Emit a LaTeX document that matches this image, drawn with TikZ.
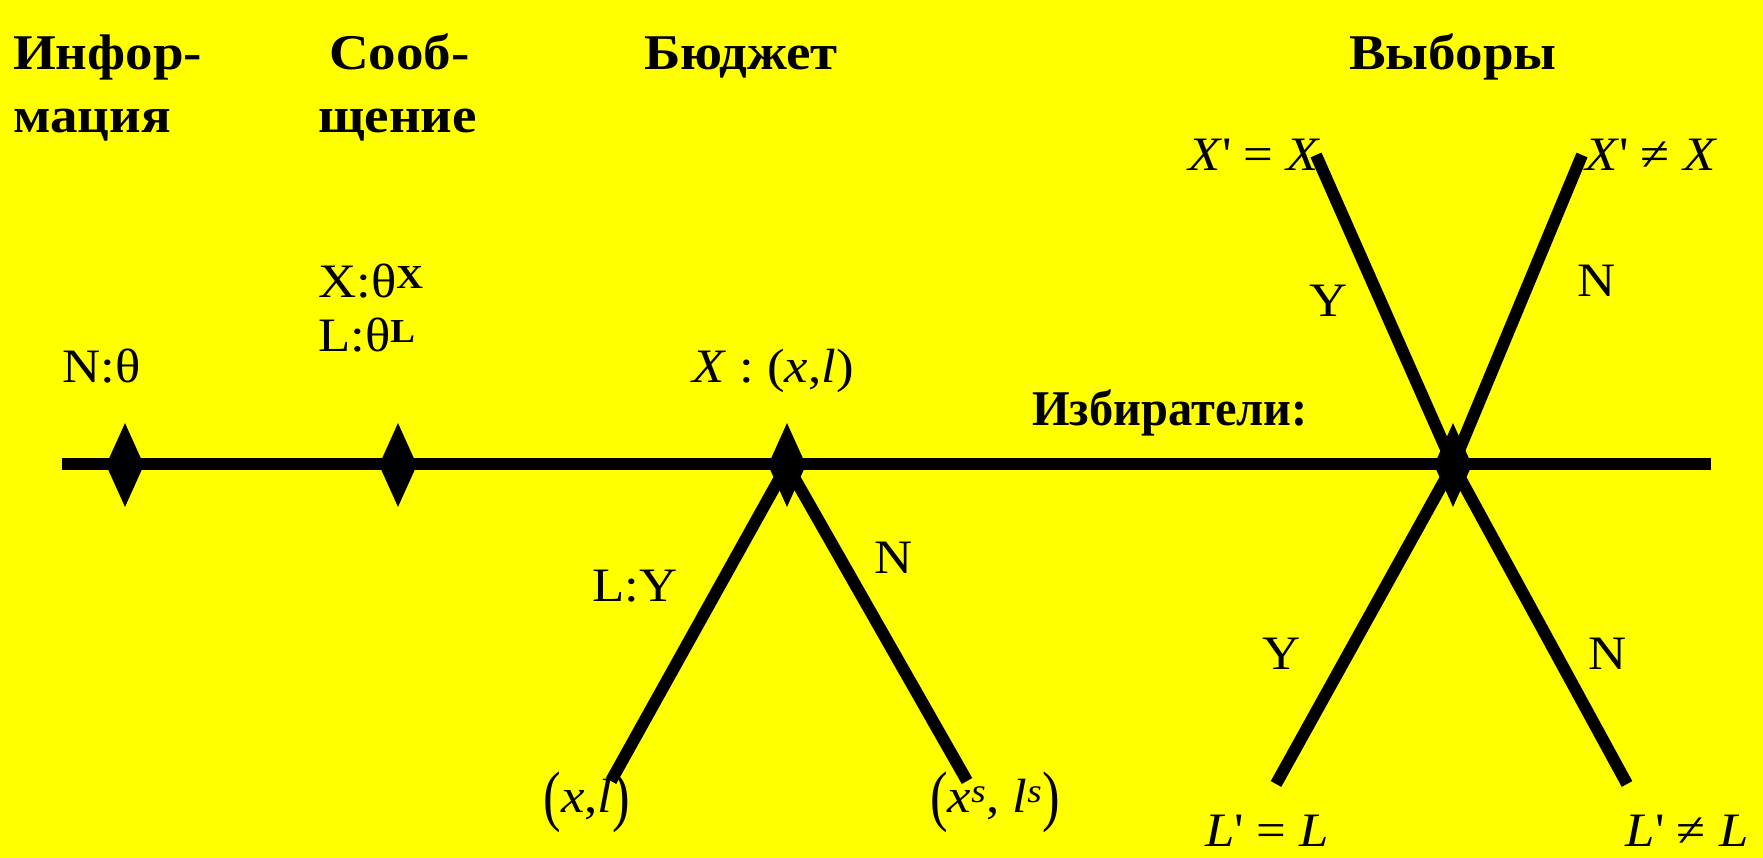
\documentclass[tikz,border=0pt]{standalone}
\usepackage{fontspec}
\setmainfont{Liberation Serif}[FakeStretch=1.1]
\usepackage{graphicx}
\usepackage{tikz}
\usetikzlibrary{shapes.geometric,positioning}
\definecolor{bgyellow}{RGB}{255,255,0}
\tikzset{
  tick/.style={diamond, fill=black, inner sep=0pt, minimum width=38pt, minimum height=84pt},
  branch/.style={line width=12pt},
  hd/.style={font=\fontsize{50}{60}\selectfont\bfseries, inner sep=0pt},
  lbl/.style={font=\fontsize{48}{56}\selectfont, inner sep=0pt},
}
\newcommand{\tallp}[1]{\raisebox{-6pt}{\scalebox{1}[1.4]{#1}}}
\newcommand{\pr}{\textquotesingle}

\begin{document}
\begin{tikzpicture}[x=1pt, y=-1pt]
  \useasboundingbox (0,0) rectangle (1763,858);
  \fill[bgyellow] (0,0) rectangle (1763,858);

  % headings
  \node[hd, anchor=base west] (info1) at (13,70) {Инфор-};
  \node[hd, anchor=base west] (info2) at (13,133) {мация};
  \node[hd, anchor=base west] (msg1) at (329,70) {Сооб-};
  \node[hd, anchor=base west] (msg2) at (318,133) {щение};
  \node[hd, anchor=base west] (budget) at (644,70) {Бюджет};
  \node[hd, anchor=base west] (vote) at (1349,70) {Выборы};
  \node[hd, anchor=base west] (voters) at (1032,425) {\scalebox{0.88}[1]{Избиратели:}};

  % labels on the time line
  \node[lbl, anchor=base west] (nth) at (62,382) {N:θ};
  \node[lbl, anchor=base west] (xth) at (318,298) {X:θ\textsuperscript{\textbf{X}}};
  \node[lbl, anchor=base west] (lth) at (318,352) {L:θ\textsuperscript{\textbf{L}}};
  \node[lbl, anchor=base west] (xbud) at (692,382) {\textit{X} : (\textit{x},\textit{l})};

  % budget branch labels
  \node[lbl, anchor=base] (ly) at (635,601) {L:Y};
  \node[lbl, anchor=base] (nbud) at (894,573) {N};
  \node[lbl, anchor=base] (xl) at (587,812) {\tallp{(}\textit{x},\textit{l}\tallp{)}};
  \node[lbl, anchor=base] (xsls) at (995,812)
    {\tallp{(}\textit{x}\textsuperscript{\textit{s}}, \textit{l}\textsuperscript{\textit{s}}\tallp{)}};

  % election labels
  \node[lbl, anchor=base east] (xeq) at (1321,171) {\textit{X}\pr\ = \textit{X}};
  \node[lbl, anchor=base west] (xne) at (1585,171) {\textit{X}\pr\ ≠ \textit{X}};
  \node[lbl, anchor=base] (yup) at (1329,317) {Y};
  \node[lbl, anchor=base] (nup) at (1597,297) {N};
  \node[lbl, anchor=base] (ylo) at (1282,669) {Y};
  \node[lbl, anchor=base] (nlo) at (1608,669) {N};
  \node[lbl, anchor=base] (leq) at (1267,846) {\textit{L}\pr\ = \textit{L}};
  \node[lbl, anchor=base] (lne) at (1687,846) {\textit{L}\pr\ ≠ \textit{L}};

  % time line
  \coordinate (ls) at (62,464);
  \coordinate (le) at (1711,464);
  \draw[branch] (ls) -- (le);

  \node[tick] (d1) at (125,465) {};
  \node[tick] (d2) at (398,465) {};
  \node[tick] (d3) at (787,465) {};
  \node[tick] (d4) at (1453,465) {};

  % budget
  \coordinate (bl) at (611,781);
  \coordinate (br) at (967,781);
  \draw[branch] (d3.center) -- (bl);
  \draw[branch] (d3.center) -- (br);

  % election
  \coordinate (ul) at (1316,155);
  \coordinate (ur) at (1582,155);
  \coordinate (dl) at (1276,784);
  \coordinate (dr) at (1627,784);
  \foreach \e in {ul,ur,dl,dr}
    \draw[branch] (d4.center) -- (\e);
\end{tikzpicture}
\end{document}
